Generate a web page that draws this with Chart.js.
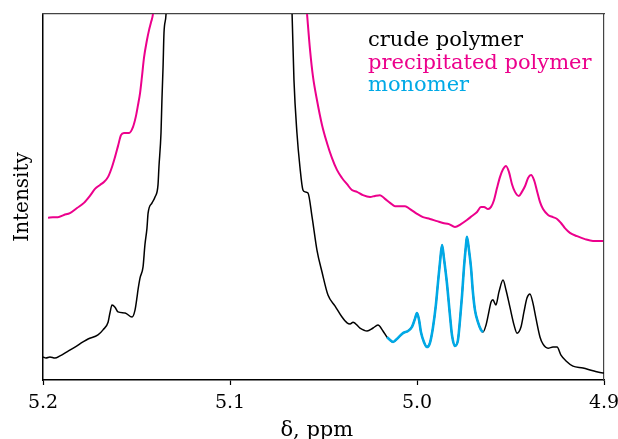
<!DOCTYPE html>
<html>
<head>
<meta charset="utf-8">
<script src="https://cdn.jsdelivr.net/npm/chart.js@4/dist/chart.umd.min.js"></script>
<style>
  html, body { margin: 0; padding: 0; background: #fff; }
  #wrap { width: 618px; height: 439px; }
</style>
</head>
<body>
<div id="wrap"><canvas id="nmr"></canvas></div>
<script>
// Chemical shift axis (ppm), drawn high -> low like a normal NMR plot
const shiftTicks = [5.2, 5.1, 5.0, 4.9];
const seriesNames = ["crude polymer", "precipitated polymer", "monomer"];
const seriesColors = ["#000000", "#ec008c", "#00a9e6"];

// crude polymer (black); the big peak goes off the top of the frame
const crudeShift = [
  5.2000, 5.1984, 5.1963, 5.1936, 5.1909, 5.1872, 5.1829, 5.1786, 5.1759, 5.1706,
  5.1679, 5.1652, 5.1642, 5.1631, 5.1615, 5.1599, 5.1561, 5.1524, 5.1508, 5.1497,
  5.1492, 5.1481, 5.1465, 5.1455, 5.1444, 5.1438, 5.1417, 5.1401, 5.1385, 5.1380,
  5.1369, 5.1364, 5.1358, 5.1353, 5.1342, 5.1337, 5.0674, 5.0668, 5.0658, 5.0642,
  5.0626, 5.0610, 5.0599, 5.0583, 5.0561, 5.0535, 5.0508, 5.0476, 5.0438, 5.0401,
  5.0374, 5.0358, 5.0342, 5.0305, 5.0267, 5.0235, 5.0209, 5.0182, 5.0160, 5.0144,
  5.0128, 5.0102, 5.0075, 5.0048, 5.0027, 5.0011, 5.0000, 4.9989, 4.9979, 4.9963,
  4.9947, 4.9931, 4.9915, 4.9899, 4.9888, 4.9877, 4.9866, 4.9856, 4.9840, 4.9824,
  4.9813, 4.9797, 4.9781, 4.9770, 4.9759, 4.9749, 4.9738, 4.9733, 4.9722, 4.9711,
  4.9701, 4.9690, 4.9674, 4.9658, 4.9647, 4.9631, 4.9620, 4.9604, 4.9594, 4.9578,
  4.9562, 4.9540, 4.9524, 4.9503, 4.9481, 4.9465, 4.9444, 4.9428, 4.9412, 4.9396,
  4.9380, 4.9364, 4.9342, 4.9326, 4.9299, 4.9273, 4.9251, 4.9230, 4.9203, 4.9166,
  4.9112, 4.9059, 4.9005, 4.8989
];
const crudeIntensity = [
  6.3, 6.0, 6.3, 6.0, 6.6, 7.7, 9.0, 10.4, 11.2, 12.3,
  13.7, 15.8, 18.3, 20.5, 19.9, 18.6, 18.3, 17.2, 19.1, 22.7,
  24.6, 27.9, 30.9, 36.9, 41.5, 45.6, 48.4, 50.0, 53.3, 58.2,
  67.5, 76.5, 85.5, 94.8, 100, 106.6, 106.6, 100, 82.0, 67.5,
  58.2, 51.9, 51.4, 51.1, 44.5, 35.5, 29.5, 23.2, 20.2, 17.2,
  15.6, 15.3, 15.8, 14.2, 13.4, 14.2, 15.0, 13.4, 11.7, 10.9,
  10.4, 11.5, 12.8, 13.4, 14.5, 16.7, 18.3, 16.4, 13.1, 10.4,
  9.0, 10.1, 14.2, 20.5, 26.5, 32.2, 36.9, 33.3, 26.5, 17.8,
  12.3, 9.3, 10.9, 16.4, 23.2, 30.6, 36.9, 39.1, 35.5, 30.6,
  24.0, 19.1, 15.8, 13.7, 13.1, 15.0, 17.5, 21.3, 21.9, 20.5,
  24.0, 27.3, 24.6, 19.9, 15.0, 12.8, 14.5, 18.6, 22.4, 23.5,
  21.0, 16.9, 11.7, 9.8, 8.7, 9.0, 9.0, 6.8, 5.2, 3.8,
  3.3, 2.5, 1.9, 2.2
];

// precipitated polymer (magenta)
const precipShift = [
  5.1973, 5.1947, 5.1920, 5.1888, 5.1856, 5.1818, 5.1781, 5.1749, 5.1722, 5.1695,
  5.1674, 5.1652, 5.1631, 5.1615, 5.1599, 5.1583, 5.1567, 5.1540, 5.1519, 5.1503,
  5.1492, 5.1481, 5.1471, 5.1460, 5.1444, 5.1433, 5.1422, 5.1412, 5.1406, 5.0594,
  5.0588, 5.0572, 5.0556, 5.0535, 5.0508, 5.0481, 5.0455, 5.0428, 5.0401, 5.0374,
  5.0348, 5.0321, 5.0289, 5.0251, 5.0225, 5.0198, 5.0171, 5.0144, 5.0118, 5.0091,
  5.0064, 5.0037, 5.0000, 4.9968, 4.9931, 4.9893, 4.9861, 4.9829, 4.9797, 4.9765,
  4.9733, 4.9706, 4.9679, 4.9658, 4.9642, 4.9620, 4.9604, 4.9588, 4.9572, 4.9556,
  4.9540, 4.9524, 4.9508, 4.9492, 4.9476, 4.9455, 4.9439, 4.9422, 4.9406, 4.9390,
  4.9374, 4.9358, 4.9342, 4.9326, 4.9299, 4.9273, 4.9251, 4.9230, 4.9209, 4.9182,
  4.9144, 4.9102, 4.9059, 4.9005
];
const precipIntensity = [
  44.3, 44.5, 44.5, 45.1, 45.6, 47.0, 48.4, 50.3, 52.2, 53.3,
  54.1, 55.5, 58.2, 60.9, 63.9, 66.9, 67.5, 67.5, 69.1, 72.1,
  75.1, 78.4, 82.8, 88.0, 92.9, 95.6, 97.8, 100, 103.8, 103.8,
  100, 90.2, 82.8, 76.5, 69.7, 64.7, 60.7, 57.4, 55.2, 53.5,
  51.9, 51.4, 50.5, 50.0, 50.3, 50.5, 49.5, 48.4, 47.5, 47.5,
  47.5, 46.7, 45.4, 44.5, 44.0, 43.4, 42.9, 42.6, 41.8, 42.6,
  43.7, 44.8, 45.9, 47.3, 47.3, 46.7, 47.3, 49.2, 52.5, 55.5,
  57.6, 58.5, 56.8, 53.5, 51.4, 50.3, 51.4, 53.0, 55.2, 56.0,
  54.6, 51.6, 48.6, 46.7, 45.1, 44.5, 44.0, 42.9, 41.5, 40.2,
  39.3, 38.5, 38.0, 38.0
];

// monomer (cyan), lies on top of the crude trace
const monomerShift = [
  5.0160, 5.0144, 5.0128, 5.0102, 5.0075, 5.0048, 5.0027, 5.0011, 5.0000, 4.9989,
  4.9979, 4.9963, 4.9947, 4.9931, 4.9915, 4.9899, 4.9888, 4.9877, 4.9866, 4.9856,
  4.9840, 4.9824, 4.9813, 4.9797, 4.9781, 4.9770, 4.9759, 4.9749, 4.9738, 4.9733,
  4.9722, 4.9711, 4.9701, 4.9690, 4.9674, 4.9658, 4.9647
];
const monomerIntensity = [
  11.7, 10.9, 10.4, 11.5, 12.8, 13.4, 14.5, 16.7, 18.3, 16.4,
  13.1, 10.4, 9.0, 10.1, 14.2, 20.5, 26.5, 32.2, 36.9, 33.3,
  26.5, 17.8, 12.3, 9.3, 10.9, 16.4, 23.2, 30.6, 36.9, 39.1,
  35.5, 30.6, 24.0, 19.1, 15.8, 13.7, 13.1
];

const FONT = "'DejaVu Serif', 'Liberation Serif', serif";

function toPoints(xs, ys) {
  const n = Math.min(xs.length, ys.length);
  const out = [];
  for (let i = 0; i < n; i++) out.push({ x: xs[i], y: ys[i] });
  return out;
}

function lineDataset(index, xs, ys, width, order) {
  return {
    label: seriesNames[index],
    data: toPoints(xs, ys),
    borderColor: seriesColors[index],
    borderWidth: width,
    showLine: true,
    pointRadius: 0,
    cubicInterpolationMode: "monotone",
    order
  };
}

// coloured text legend, top right inside the frame
const textLegend = {
  id: "textLegend",
  afterDatasetsDraw(chart) {
    const { ctx } = chart;
    ctx.save();
    ctx.font = `21px ${FONT}`;
    ctx.textAlign = "left";
    ctx.textBaseline = "alphabetic";
    seriesNames.forEach((name, i) => {
      ctx.fillStyle = seriesColors[i];
      ctx.fillText(name, 368, 46 + i * 22.5);
    });
    ctx.restore();
  }
};

const hiddenEdge = {
  type: "linear",
  min: 4.9,
  max: 5.2,
  grid: { display: false },
  ticks: { display: false },
  border: { display: true, color: "#444", width: 1.2 }
};

new Chart(document.getElementById("nmr"), {
  type: "scatter",
  data: {
    datasets: [
      lineDataset(2, monomerShift, monomerIntensity, 2.6, 0),
      lineDataset(1, precipShift, precipIntensity, 2, 1),
      lineDataset(0, crudeShift, crudeIntensity, 1.5, 2)
    ]
  },
  options: {
    responsive: true,
    maintainAspectRatio: false,
    animation: false,
    layout: { padding: { top: 14, right: 14, left: 0, bottom: 0 } },
    plugins: {
      legend: { display: false },
      tooltip: { enabled: false }
    },
    scales: {
      x: {
        type: "linear",
        position: "bottom",
        reverse: true,
        min: 4.9,
        max: 5.2,
        afterBuildTicks: (scale) => {
          scale.ticks = shiftTicks.map((v) => ({ value: v }));
        },
        afterFit: (scale) => {
          scale.height = 59;
          scale.paddingLeft = 0;
          scale.paddingRight = 0;
        },
        grid: {
          display: true,
          drawOnChartArea: false,
          drawTicks: true,
          tickLength: 5,
          tickColor: "#000",
          tickWidth: 1.2
        },
        border: { display: true, color: "#000", width: 1.5 },
        ticks: {
          color: "#000",
          padding: 7,
          maxRotation: 0,
          autoSkip: false,
          font: { family: FONT, size: 19 },
          callback: (value) => Number(value).toFixed(1)
        },
        title: {
          display: true,
          text: "δ, ppm\u00a0\u00a0",
          color: "#000",
          padding: { top: 0, bottom: -2 },
          font: { family: FONT, size: 21, lineHeight: 1 }
        }
      },
      y: {
        type: "linear",
        min: 0,
        max: 100,
        afterFit: (scale) => { scale.width = 43; },
        grid: { display: false },
        ticks: { display: false },
        border: { display: true, color: "#000", width: 1.5 },
        title: {
          display: true,
          text: "Intensity",
          color: "#000",
          padding: { top: 11, bottom: 0 },
          font: { family: FONT, size: 20 }
        }
      },
      xTop: Object.assign({}, hiddenEdge, {
        position: "top",
        reverse: true,
        afterFit: (scale) => { scale.height = 0; }
      }),
      yRight: Object.assign({}, hiddenEdge, {
        position: "right",
        min: 0,
        max: 100,
        afterFit: (scale) => { scale.width = 0; }
      })
    }
  },
  plugins: [textLegend]
});
</script>
</body>
</html>
